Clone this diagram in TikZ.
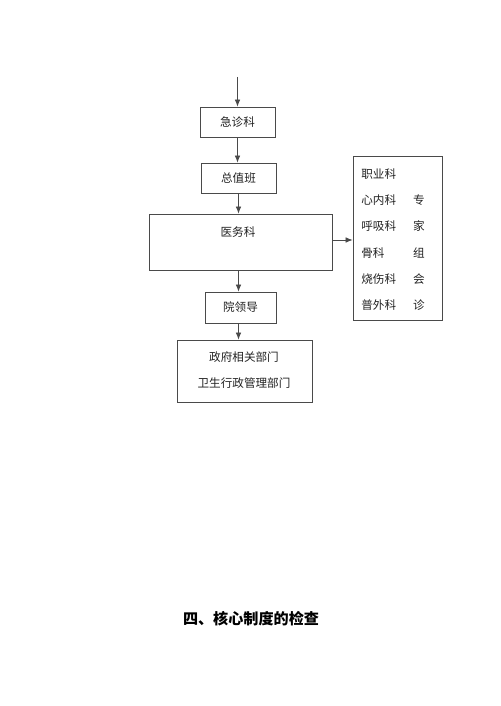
\documentclass[tikz,border=0pt]{standalone}
\usepackage{fontspec}
\newfontfamily\cjk{Noto Sans CJK SC}
\usetikzlibrary{arrows.meta, positioning, calc}
\definecolor{mline}{HTML}{4A4A4A}
\definecolor{mtext}{HTML}{222222}
\tikzset{
  cbox/.style={draw=mline, line width=0.45pt, fill=white, inner sep=0pt,
               font=\cjk\fontsize{6.6}{8}\selectfont, text=mtext},
  ctxt/.style={font=\cjk\fontsize{6.6}{8}\selectfont, text=mtext, inner sep=0pt},
  arr/.style={-{Latex[length=4pt,width=3.2pt]}, line width=0.45pt, mline},
}

\begin{document}
\begin{tikzpicture}[x=0.02cm, y=-0.02cm]
  \useasboundingbox (0,0) rectangle (500,706);
  % main column
  \coordinate (top) at (237.5,77);
  \node[cbox, minimum width=75*0.02cm, minimum height=30*0.02cm] (jz) at (237.5,122) {急诊科};
  \node[cbox, minimum width=75*0.02cm, minimum height=30*0.02cm] (zzb) at (238.5,178) {总值班};
  \node[cbox, minimum width=183*0.02cm, minimum height=56*0.02cm] (ywk) at (240.5,242) {};
  \node[ctxt] (ywktxt) at (238,232) {医务科};
  \node[cbox, minimum width=71*0.02cm, minimum height=31*0.02cm] (yld) at (240.5,307.5) {院领导};
  \node[cbox, minimum width=135*0.02cm, minimum height=62*0.02cm] (zf) at (244.5,371) {};
  \node[ctxt] (zf1) at (244,357) {政府相关部门};
  \node[ctxt] (zf2) at (244,383) {卫生行政管理部门};

  % expert consultation group
  \node[cbox, minimum width=89*0.02cm, minimum height=164*0.02cm] (zj) at (397.5,238) {};
  \foreach \k/\name in {0/职业科, 1/心内科, 2/呼吸科, 3/骨科, 4/烧伤科, 5/普外科}
    \node[ctxt, anchor=west] (dept\k) at (361,174+26.2*\k) {\name};
  \foreach \k/\ch in {1/专, 2/家, 3/组, 4/会, 5/诊}
    \node[ctxt] (zjz\k) at (419,174+26.2*\k) {\ch};

  \draw[arr] (top) -- (jz.north);
  \draw[arr] (jz.south) -- (jz.south |- zzb.north);
  \draw[arr] (zzb.south) -- (zzb.south |- ywk.north);
  \draw[arr] ($(ywk.south)+(-2,0)$) -- ($(yld.north)+(-2,0)$);
  \draw[arr] ($(yld.south)+(-2,0)$) -- ($(yld.south |- zf.north)+(-2,0)$);
  \draw[arr] ($(ywk.east)+(0,-2)$) -- ($(zj.west |- ywk.east)+(0,-2)$);

  % section title
  \node[font=\cjk\bfseries\fontsize{8.6}{10}\selectfont, text=black, inner sep=0pt]
    (title) at (251,619) {四、核心制度的检查};
\end{tikzpicture}
\end{document}
